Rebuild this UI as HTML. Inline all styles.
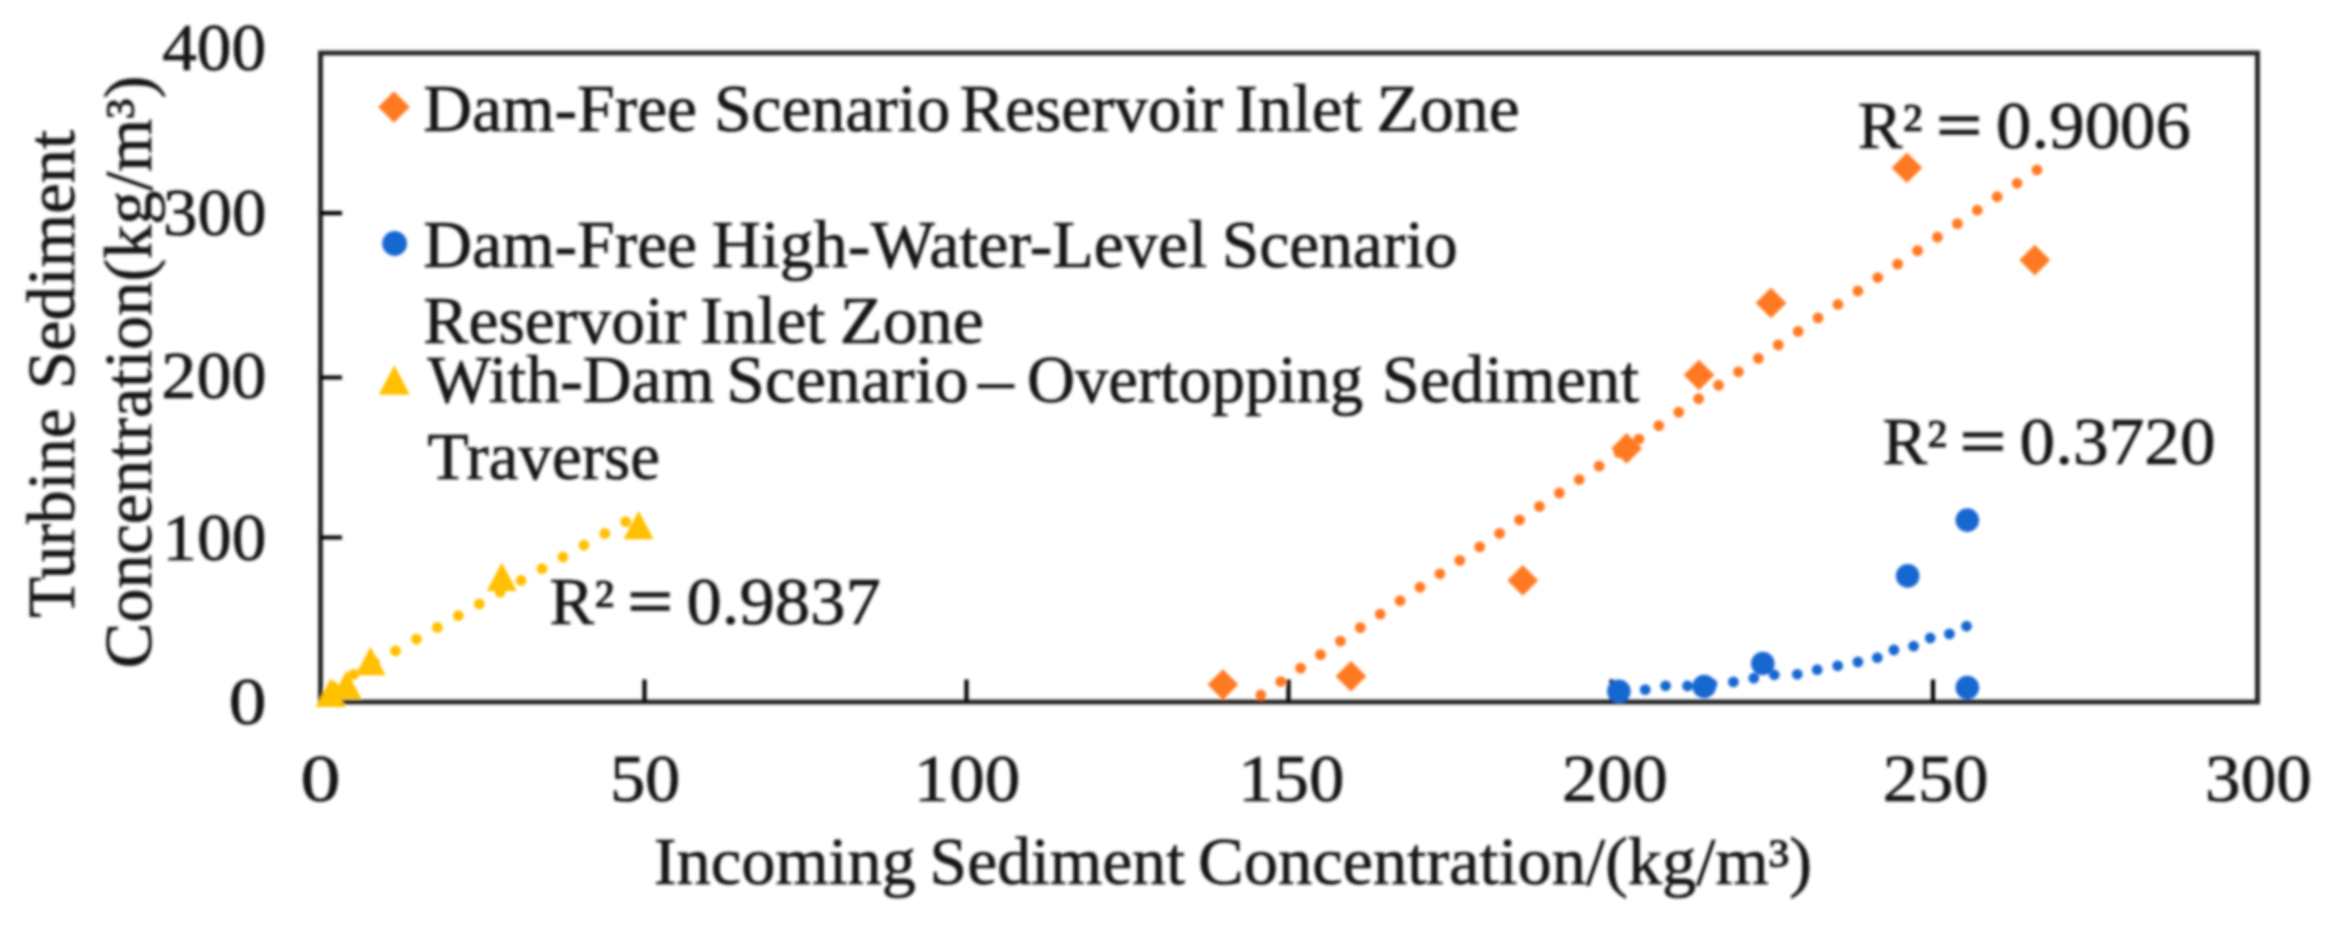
<!DOCTYPE html>
<html lang="en"><head><meta charset="utf-8"><title>Turbine Sediment Concentration vs Incoming Sediment Concentration</title>
<style>
html,body{margin:0;padding:0;background:#fff;}
body{width:2338px;height:939px;overflow:hidden;}
svg{display:block;}
text{font-family:"Liberation Serif","Times New Roman",serif;font-size:67px;fill:#141414;stroke:#141414;stroke-width:0.7px;}
</style></head><body>
<svg width="2338" height="939" viewBox="0 0 2338 939">
<defs><filter id="bl" x="-2%" y="-2%" width="104%" height="104%"><feGaussianBlur stdDeviation="1.5"/></filter></defs>
<rect width="2338" height="939" fill="#fff"/>
<g filter="url(#bl)">
<rect x="320.5" y="53.0" width="1937.0" height="649.0" fill="none" stroke="#202020" stroke-width="4.8"/>
<path d="M320.5 213.1H342.0M320.5 377.5H342.0M320.5 537.5H342.0M644.5 702.0V679.5M966.5 702.0V679.5M1288.5 702.0V679.5M1611.5 702.0V679.5M1933.0 702.0V679.5" stroke="#050505" stroke-width="4.2" fill="none"/>
<path d="M1260.80 695.00L2037.50 169.46" stroke="#FF7920" stroke-width="10.8" stroke-linecap="round" stroke-dasharray="0 24.030" fill="none"/>
<path d="M332.71 686.12L626.25 521.47" stroke="#FFC000" stroke-width="10.8" stroke-linecap="round" stroke-dasharray="0 23.998" fill="none"/>
<g fill="#1668D0"><circle cx="1645.2" cy="689.6" r="5.4"/><circle cx="1665.6" cy="685.8" r="5.4"/><circle cx="1687.5" cy="686.0" r="5.4"/><circle cx="1712.0" cy="684.0" r="5.4"/><circle cx="1733.4" cy="681.9" r="5.4"/><circle cx="1753.8" cy="678.1" r="5.4"/><circle cx="1774.3" cy="674.8" r="5.4"/><circle cx="1797.3" cy="674.3" r="5.4"/><circle cx="1817.2" cy="669.7" r="5.4"/><circle cx="1837.7" cy="665.8" r="5.4"/><circle cx="1857.9" cy="662.0" r="5.4"/><circle cx="1877.3" cy="657.7" r="5.4"/><circle cx="1893.9" cy="650.0" r="5.4"/><circle cx="1913.6" cy="646.2" r="5.4"/><circle cx="1930.2" cy="638.0" r="5.4"/><circle cx="1949.4" cy="633.9" r="5.4"/><circle cx="1966.5" cy="626.2" r="5.4"/></g>
<path d="M1222.9 669.3L1238.2 684.6L1222.9 699.9L1207.6 684.6ZM1351.0 660.9L1366.3 676.2L1351.0 691.5L1335.7 676.2ZM1522.8 565.1L1538.1 580.4L1522.8 595.7L1507.5 580.4ZM1626.6 433.1L1641.9 448.4L1626.6 463.7L1611.3 448.4ZM1699.0 359.7L1714.3 375.0L1699.0 390.3L1683.7 375.0ZM1771.0 287.7L1786.3 303.0L1771.0 318.3L1755.7 303.0ZM1906.9 152.4L1922.2 167.7L1906.9 183.0L1891.6 167.7ZM2034.8 244.8L2050.1 260.1L2034.8 275.4L2019.5 260.1Z" fill="#FF7920"/>
<g fill="#1668D0"><circle cx="1618.9" cy="691.3" r="11.8"/><circle cx="1704.2" cy="686.5" r="11.8"/><circle cx="1762.8" cy="663.5" r="11.8"/><circle cx="1907.7" cy="575.9" r="11.8"/><circle cx="1967.3" cy="520.1" r="11.8"/><circle cx="1967.3" cy="687.6" r="11.8"/></g>
<path d="M330.6 678.6L345.6 707.1L315.6 707.1ZM346.5 670.5L361.5 699.0L331.5 699.0ZM370.5 646.8L385.5 675.3L355.5 675.3ZM501.8 562.5L516.8 591.0L486.8 591.0ZM638.6 510.8L653.6 539.3L623.6 539.3Z" fill="#FFC000"/>
<path d="M394.0 91.2L409.8 107.0L394.0 122.8L378.2 107.0Z" fill="#FF7920"/>
<circle cx="394.6" cy="243.5" r="12.4" fill="#1668D0"/>
<path d="M394.3 365.2L409.8 394.7L378.8 394.7Z" fill="#FFC000"/>
<text y="131.2"><tspan x="423.26" textLength="273.87" lengthAdjust="spacingAndGlyphs">Dam-Free</tspan> <tspan x="713.98" textLength="236.40" lengthAdjust="spacingAndGlyphs">Scenario</tspan> <tspan x="959.72" textLength="263.38" lengthAdjust="spacingAndGlyphs">Reservoir</tspan> <tspan x="1234.94" textLength="126.64" lengthAdjust="spacingAndGlyphs">Inlet</tspan> <tspan x="1376.57" textLength="143.22" lengthAdjust="spacingAndGlyphs">Zone</tspan></text>
<text y="266.6"><tspan x="423.26" textLength="273.87" lengthAdjust="spacingAndGlyphs">Dam-Free</tspan> <tspan x="711.76" textLength="495.38" lengthAdjust="spacingAndGlyphs">High-Water-Level</tspan> <tspan x="1221.74" textLength="236.00" lengthAdjust="spacingAndGlyphs">Scenario</tspan></text>
<text y="343.4"><tspan x="423.27" textLength="263.04" lengthAdjust="spacingAndGlyphs">Reservoir</tspan> <tspan x="700.16" textLength="125.35" lengthAdjust="spacingAndGlyphs">Inlet</tspan> <tspan x="839.77" textLength="144.20" lengthAdjust="spacingAndGlyphs">Zone</tspan></text>
<text y="402.4"><tspan x="427.58" textLength="286.70" lengthAdjust="spacingAndGlyphs">With-Dam</tspan> <tspan x="726.25" textLength="242.28" lengthAdjust="spacingAndGlyphs">Scenario</tspan> <tspan x="978.34" textLength="35.39" lengthAdjust="spacingAndGlyphs">–</tspan> <tspan x="1026.97" textLength="336.27" lengthAdjust="spacingAndGlyphs">Overtopping</tspan> <tspan x="1382.13" textLength="257.08" lengthAdjust="spacingAndGlyphs">Sediment</tspan></text>
<text y="479.4"><tspan x="427.57" textLength="232.38" lengthAdjust="spacingAndGlyphs">Traverse</tspan></text>
<text y="147.5" style="font-size:67px"><tspan x="1857.8">R² </tspan><tspan x="1936.4" textLength="45.3" lengthAdjust="spacingAndGlyphs" style="stroke-width:1.6px">=</tspan><tspan> </tspan><tspan x="1996.1" textLength="194.8" lengthAdjust="spacingAndGlyphs">0.9006</tspan></text>
<text y="464.0" style="font-size:67px"><tspan x="1882.4">R² </tspan><tspan x="1959.9" textLength="45.9" lengthAdjust="spacingAndGlyphs" style="stroke-width:1.6px">=</tspan><tspan> </tspan><tspan x="2019.6" textLength="195.9" lengthAdjust="spacingAndGlyphs">0.3720</tspan></text>
<text y="623.6" style="font-size:67px"><tspan x="549.6">R² </tspan><tspan x="627.8" textLength="44.9" lengthAdjust="spacingAndGlyphs" style="stroke-width:1.6px">=</tspan><tspan> </tspan><tspan x="686.5" textLength="194.4" lengthAdjust="spacingAndGlyphs">0.9837</tspan></text>
<text y="800.7"><tspan x="300.60" textLength="40.02" lengthAdjust="spacingAndGlyphs">0</tspan></text>
<text y="800.7"><tspan x="609.90" textLength="70.45" lengthAdjust="spacingAndGlyphs">50</tspan></text>
<text y="800.7"><tspan x="913.87" textLength="106.51" lengthAdjust="spacingAndGlyphs">100</tspan></text>
<text y="800.7"><tspan x="1238.17" textLength="106.38" lengthAdjust="spacingAndGlyphs">150</tspan></text>
<text y="800.7"><tspan x="1562.04" textLength="105.81" lengthAdjust="spacingAndGlyphs">200</tspan></text>
<text y="800.7"><tspan x="1882.66" textLength="105.78" lengthAdjust="spacingAndGlyphs">250</tspan></text>
<text y="800.7"><tspan x="2205.05" textLength="106.80" lengthAdjust="spacingAndGlyphs">300</tspan></text>
<text y="70.1"><tspan x="162.19" textLength="104.06" lengthAdjust="spacingAndGlyphs">400</tspan></text>
<text y="398.0"><tspan x="161.39" textLength="105.14" lengthAdjust="spacingAndGlyphs">200</tspan></text>
<text y="560.1"><tspan x="162.22" textLength="104.22" lengthAdjust="spacingAndGlyphs">100</tspan></text>
<text y="723.9"><tspan x="228.89" textLength="37.71" lengthAdjust="spacingAndGlyphs">0</tspan></text>
<text y="234.6"><tspan x="162.99" textLength="103.54" lengthAdjust="spacingAndGlyphs">300</tspan></text>
<text y="884.3"><tspan x="653.83" textLength="262.21" lengthAdjust="spacingAndGlyphs">Incoming</tspan> <tspan x="929.62" textLength="255.33" lengthAdjust="spacingAndGlyphs">Sediment</tspan> <tspan x="1197.99" textLength="614.04" lengthAdjust="spacingAndGlyphs">Concentration/(kg/m³)</tspan></text>
<text transform="translate(74.4 0) rotate(-90)"><tspan x="-617.72" textLength="209.03" lengthAdjust="spacingAndGlyphs">Turbine</tspan> <tspan x="-389.25" textLength="259.43" lengthAdjust="spacingAndGlyphs">Sediment</tspan></text>
<text transform="translate(150.5 0) rotate(-90)"><tspan x="-668.21" textLength="592.70" lengthAdjust="spacingAndGlyphs">Concentration(kg/m³)</tspan></text>
</g>
</svg>
</body></html>
